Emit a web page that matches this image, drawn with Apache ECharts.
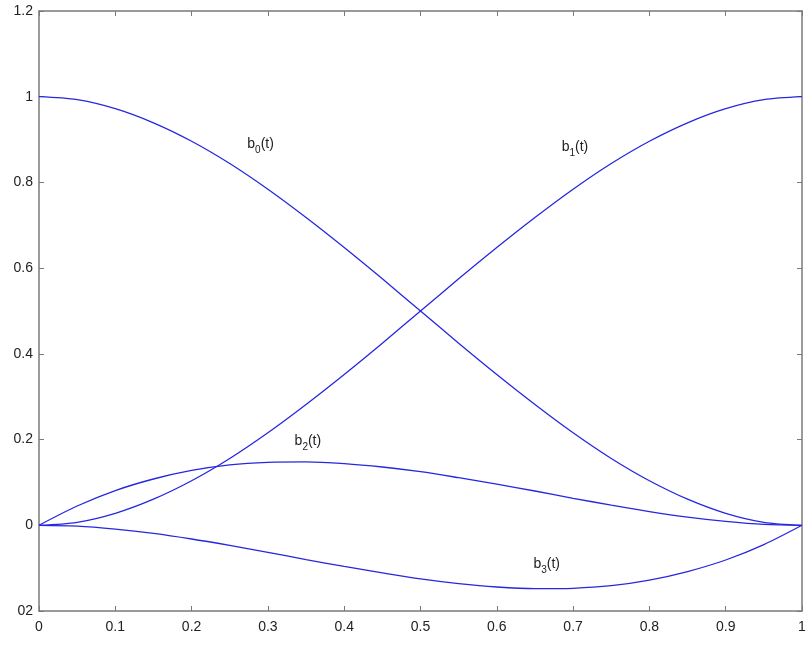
<!DOCTYPE html>
<html><head><meta charset="utf-8">
<script src="https://cdn.jsdelivr.net/npm/echarts@6/dist/echarts.min.js"></script>
<style>html,body{margin:0;padding:0;background:#fff}#c{width:812px;height:646px}</style>
</head><body><div id="c"></div>
<script>
const tValues = [0,0.05,0.1,0.15,0.2,0.25,0.3,0.35,0.4,0.45,0.5,0.55,0.6,0.65,0.7,0.75,0.8,0.85,0.9,0.95,1];
const b0Values = [1,0.993,0.972,0.939,0.896,0.844,0.784,0.718,0.648,0.575,0.5,0.425,0.352,0.282,0.216,0.156,0.104,0.061,0.028,0.007,0];
const b1Values = [0,0.007,0.028,0.061,0.104,0.156,0.216,0.282,0.352,0.425,0.5,0.575,0.648,0.718,0.784,0.844,0.896,0.939,0.972,0.993,1];
const b2Values = [0,0.045,0.081,0.108,0.128,0.141,0.147,0.148,0.144,0.136,0.125,0.111,0.096,0.080,0.063,0.047,0.032,0.019,0.009,0.002,0];
const b3Values = [0,-0.002,-0.009,-0.019,-0.032,-0.047,-0.063,-0.080,-0.096,-0.111,-0.125,-0.136,-0.144,-0.148,-0.147,-0.141,-0.128,-0.108,-0.081,-0.045,0];
const xTickLabels = ['0','0.1','0.2','0.3','0.4','0.5','0.6','0.7','0.8','0.9','1'];
const yTickLabels = ['02','0','0.2','0.4','0.6','0.8','1','1.2'];
const curveLabels = [
  {sub:'0', t:0.273, v:0.905},
  {sub:'1', t:0.685, v:0.898},
  {sub:'2', t:0.335, v:0.212},
  {sub:'3', t:0.648, v:-0.075}
];

const chart = echarts.init(document.getElementById('c'));
const axisColor = '#7a7a7a';
const fam = 'Liberation Sans, Arial, sans-serif';
const lblStyle = {color:'#222', fontSize:14, fontFamily:fam};
function mk(vals){ return tValues.map((t,i)=>[t, vals[i]]); }
function line(vals){
  return {type:'line', data: mk(vals), smooth:0.3, symbol:'none',
    lineStyle:{color:'#2727e0', width:1.3}, xAxisIndex:0, yAxisIndex:0};
}
const baseX = {type:'value', min:0, max:1, interval:0.1,
  axisLine:{show:true, onZero:false, lineStyle:{color:axisColor, width:1.5}},
  axisTick:{show:true, inside:true, length:5, lineStyle:{color:axisColor}},
  splitLine:{show:false}};
const baseY = {type:'value', min:-0.2, max:1.2, interval:0.2,
  axisLine:{show:true, onZero:false, lineStyle:{color:axisColor, width:1.5}},
  axisTick:{show:true, inside:true, length:5, lineStyle:{color:axisColor}},
  splitLine:{show:false}};
chart.setOption({
  animation:false,
  backgroundColor:'#fff',
  grid:{left:39, right:10, top:11, bottom:35},
  xAxis:[
    Object.assign({}, baseX, {position:'bottom',
      axisLabel:Object.assign({margin:9, formatter:(v)=>xTickLabels[Math.round(v*10)]}, lblStyle)}),
    Object.assign({}, baseX, {position:'top', axisLabel:{show:false}})
  ],
  yAxis:[
    Object.assign({}, baseY, {position:'left',
      axisLabel:Object.assign({margin:6, formatter:(v)=>yTickLabels[Math.round((v+0.2)*5)]}, lblStyle)}),
    Object.assign({}, baseY, {position:'right', axisLabel:{show:false}})
  ],
  series:[line(b0Values), line(b1Values), line(b2Values), line(b3Values)]
});
const graphics = curveLabels.map(l=>{
  const p = chart.convertToPixel({xAxisIndex:0, yAxisIndex:0}, [l.t, l.v]);
  return {type:'text', x:p[0], y:p[1], style:{
    text:'{b|b}{s|'+l.sub+'}{b|(t)}',
    rich:{
      b:{fontSize:14, fontFamily:fam, fill:'#222', lineHeight:16, verticalAlign:'top'},
      s:{fontSize:10, fontFamily:fam, fill:'#222', lineHeight:16, verticalAlign:'top', padding:[8,0,0,0]}
    }
  }};
});
chart.setOption({graphic:graphics});
</script></body></html>
